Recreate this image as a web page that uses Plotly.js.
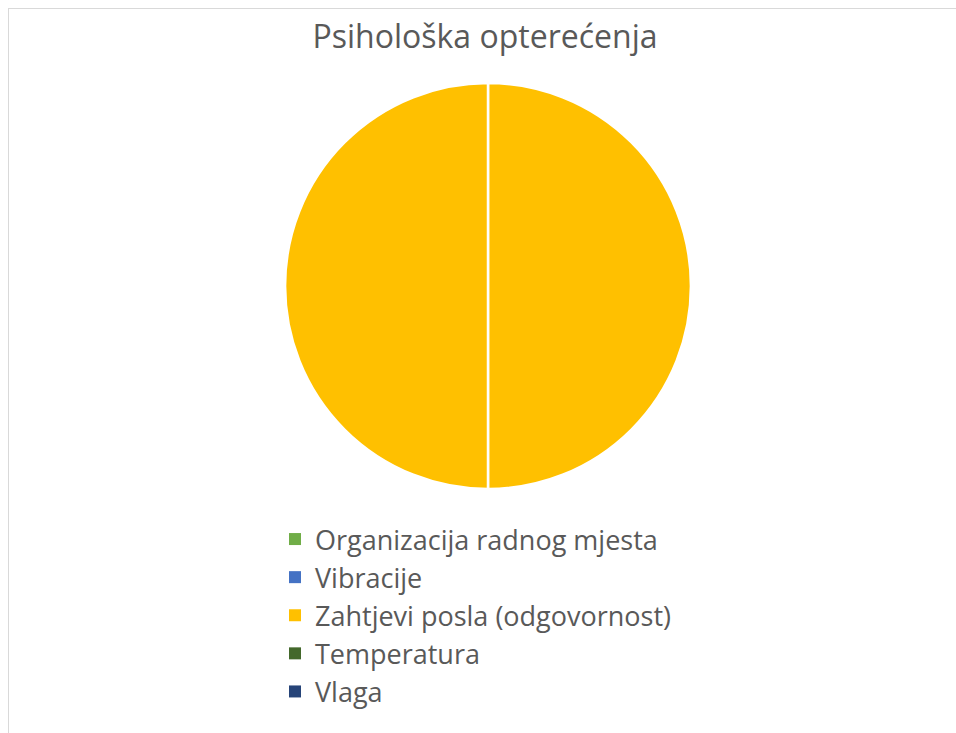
<!DOCTYPE html>
<html>
<head>
<meta charset="utf-8">
<script src="https://cdn.plot.ly/plotly-3.0.1.min.js"></script>
<style>
  html, body { margin: 0; padding: 0; background: #fff; }
  #chart { position: absolute; left: 0; top: 0; width: 956px; height: 733px; }
  #frame { position: absolute; left: 8px; top: 8px; right: 0; bottom: 0;
           border-top: 1px solid #d9d9d9; border-left: 1px solid #d9d9d9; pointer-events: none; }
</style>
</head>
<body>
<div id="chart"></div>
<div id="frame"></div>
<script>
// Categories and their values (only "Zahtjevi posla (odgovornost)" is non-zero)
const categories = [
  'Organizacija radnog mjesta',
  'Vibracije',
  'Zahtjevi posla (odgovornost)',
  'Temperatura',
  'Vlaga'
];
const values = [0, 0, 2, 0, 0];
const colors = ['#70AD47', '#4472C4', '#FFC000', '#43682B', '#264478'];

// The visible pie is split into two equal "Zahtjevi posla" entries
const splitLabels = ['Zahtjevi posla (odgovornost) – 1', 'Zahtjevi posla (odgovornost) – 2'];
const splitValues = [1, 1];
const splitColors = ['#FFC000', '#FFC000'];

const pieDomain = () => ({ x: [285 / 956, 691 / 956], y: [1 - 489 / 733, 1 - 83 / 733] });
const FONT = '"Open Sans", "Noto Sans", sans-serif';

const traces = [
  {
    type: 'pie',
    labels: categories,
    values: values,
    marker: { colors: colors, line: { color: '#ffffff', width: 0 } },
    sort: false,
    direction: 'clockwise',
    textinfo: 'none',
    hoverinfo: 'label+value',
    domain: pieDomain(),
    showlegend: true
  },
  {
    type: 'pie',
    labels: splitLabels,
    values: splitValues,
    marker: { colors: splitColors, line: { color: '#ffffff', width: 2.5 } },
    sort: false,
    direction: 'clockwise',
    textinfo: 'none',
    hoverinfo: 'skip',
    domain: pieDomain(),
    showlegend: false
  }
];

const layout = {
  width: 956,
  height: 733,
  margin: { l: 0, r: 0, t: 0, b: 0 },
  paper_bgcolor: '#ffffff',
  font: { family: FONT, color: '#595959' },
  title: {
    text: 'Psihološka opterećenja',
    font: { family: FONT, size: 32, color: '#595959' },
    xref: 'paper', x: 485 / 956, xanchor: 'center',
    yref: 'paper', y: 1 - 37 / 733, yanchor: 'middle'
  },
  legend: {
    orientation: 'v',
    xref: 'paper', x: 275 / 956, xanchor: 'left',
    yref: 'paper', y: 1 - 515 / 733, yanchor: 'top',
    font: { family: FONT, size: 27, color: '#595959' },
    bgcolor: 'rgba(0,0,0,0)',
    traceorder: 'normal'
  },
  showlegend: true
};

Plotly.newPlot('chart', traces, layout, { displayModeBar: false, staticPlot: true });
</script>
</body>
</html>
